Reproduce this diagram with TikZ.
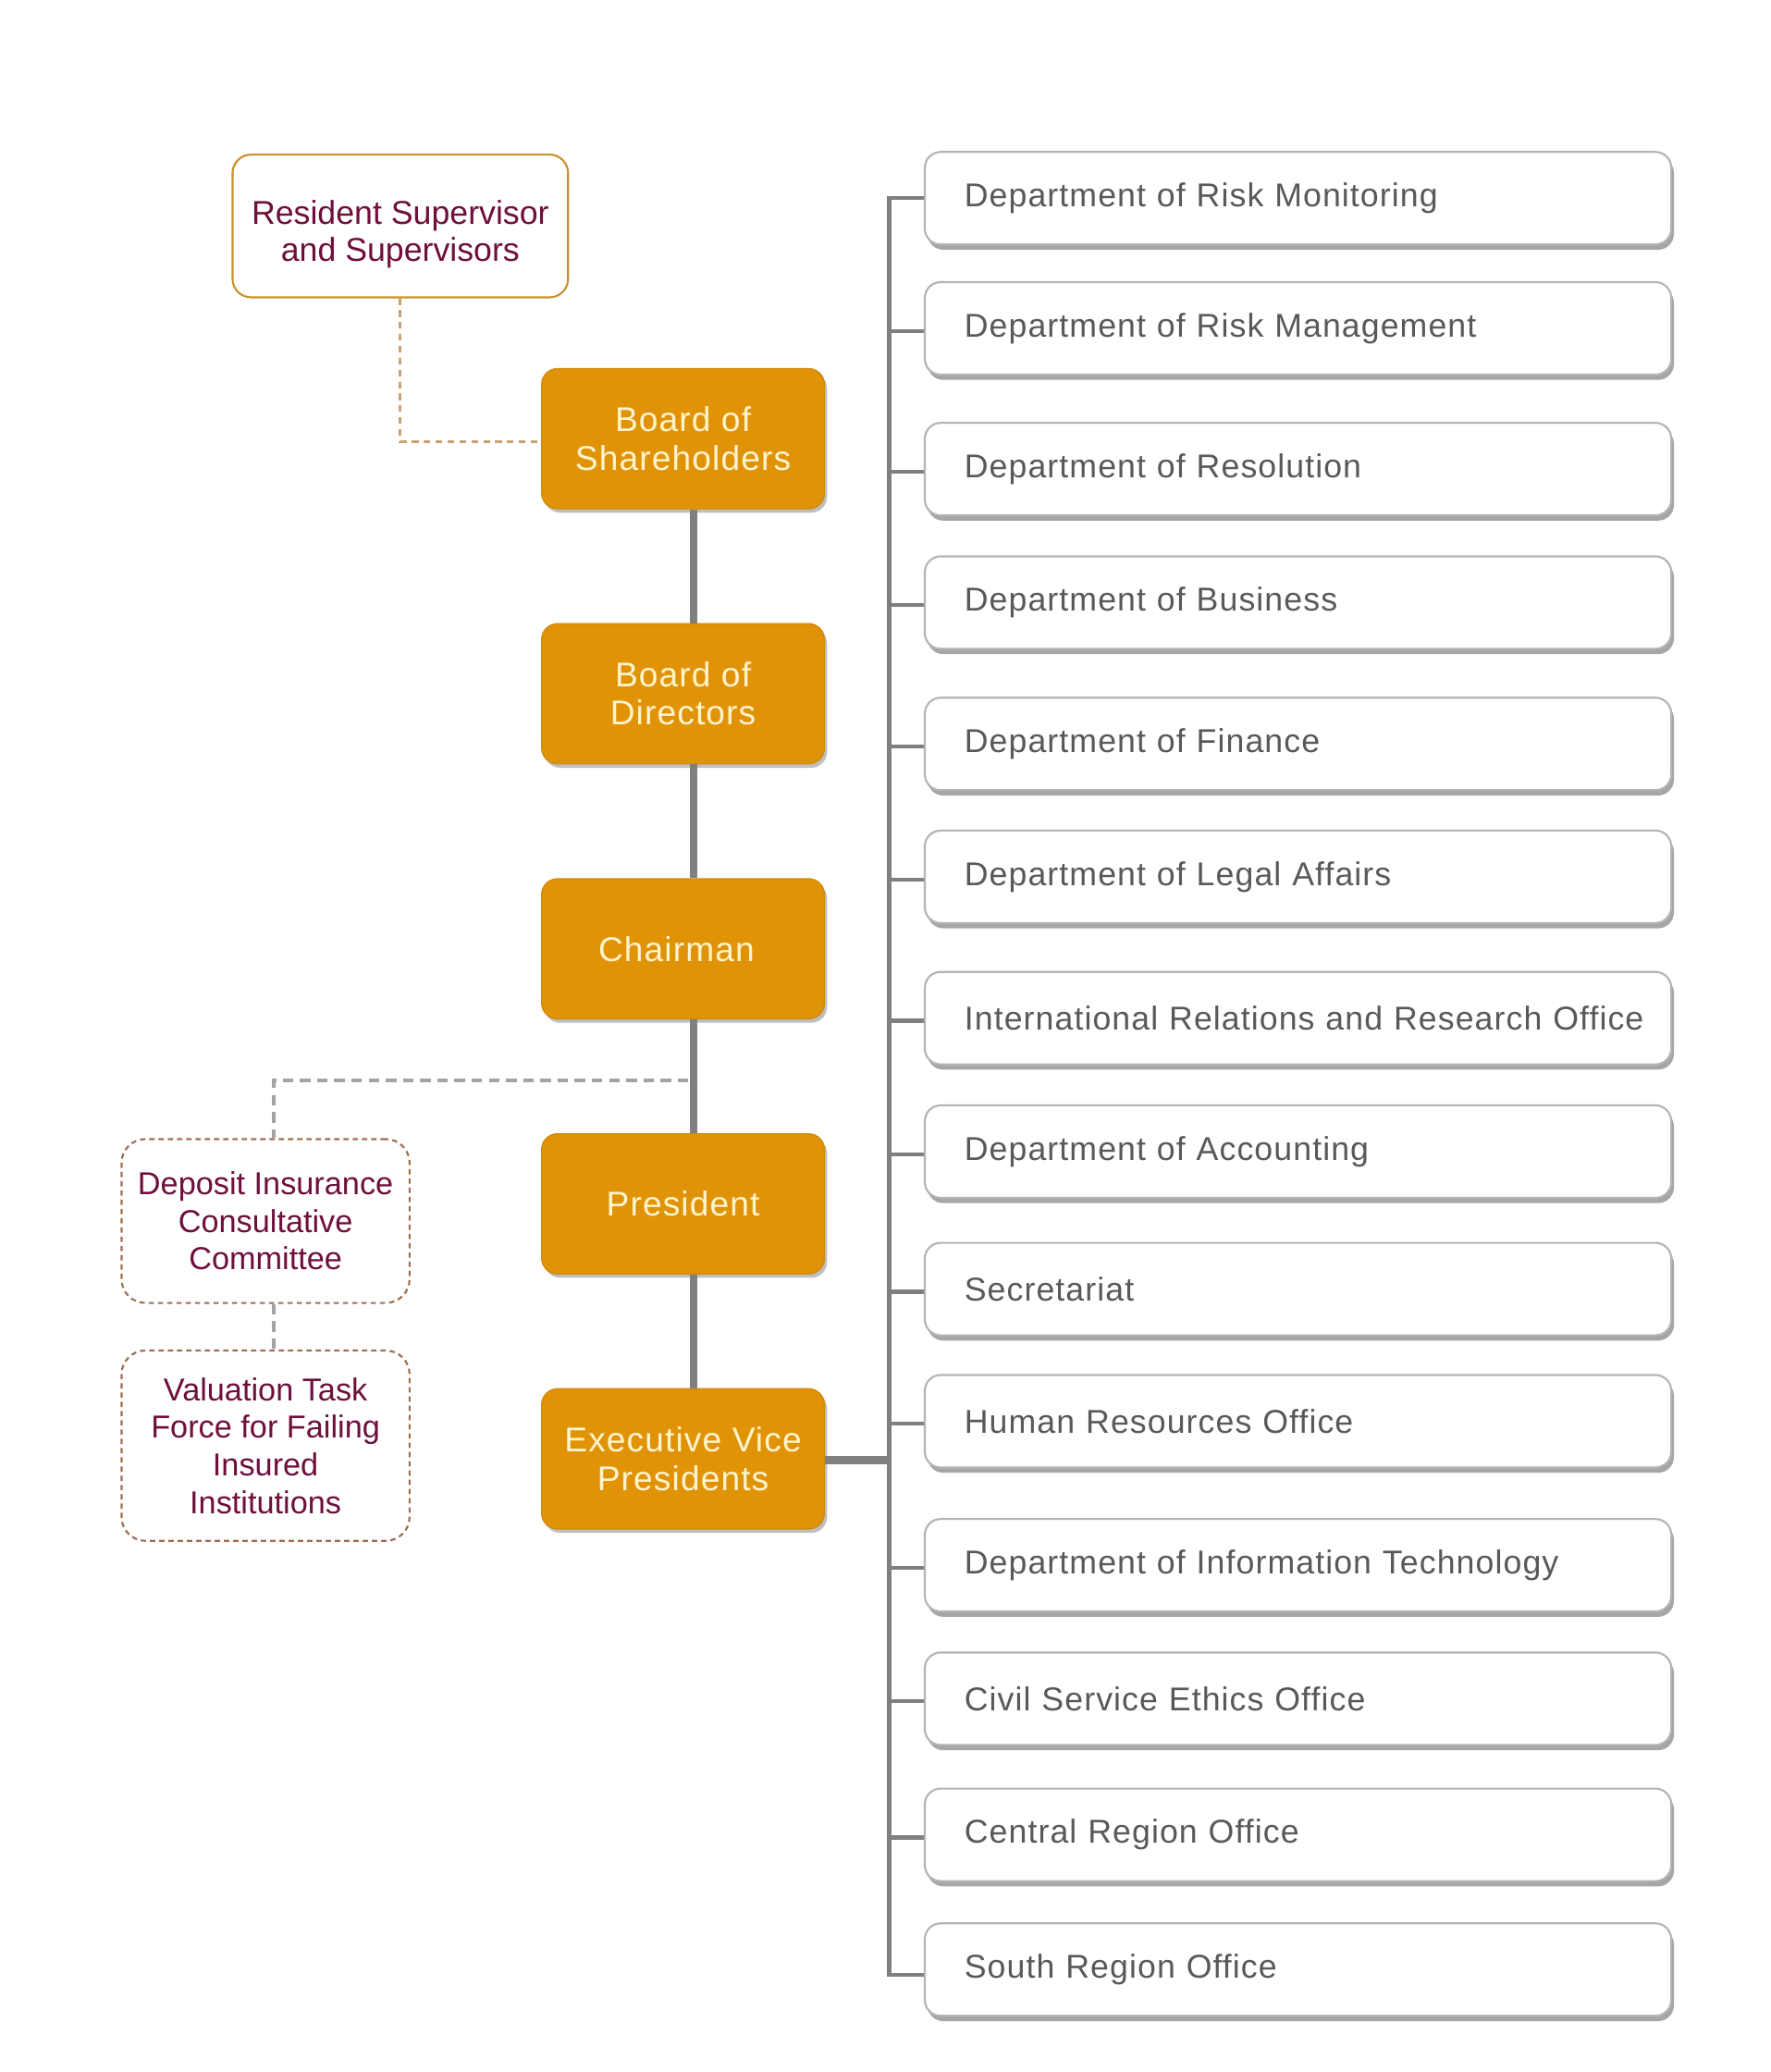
\documentclass[tikz,border=0pt]{standalone}
\usepackage{fontspec}
\setmainfont{Liberation Sans}
\newfontfamily\spacedfont[LetterSpace=3]{Liberation Sans}
\usetikzlibrary{shadows,calc}
\definecolor{orF}{HTML}{E19307}
\definecolor{orD}{HTML}{D38A0B}
\definecolor{cream}{HTML}{FFF4CC}
\definecolor{maroon}{HTML}{6E0F3C}
\definecolor{goldB}{HTML}{C8922E}
\definecolor{brownB}{HTML}{9E6E52}
\definecolor{tan}{HTML}{C9A274}
\definecolor{trunk}{HTML}{7F7F7F}
\definecolor{dgray}{HTML}{A3A3A3}
\definecolor{boxB}{HTML}{B4B4B4}
\definecolor{txtG}{HTML}{595959}
\tikzset{
  orbox/.style={rectangle, rounded corners=12pt, fill=orF, draw=orD, line width=1pt,
    minimum width=214pt, minimum height=106pt, text=cream, align=center,
    font=\spacedfont\fontsize{26}{29}\selectfont,
    drop shadow={shadow xshift=2pt, shadow yshift=-3pt, fill=black, opacity=0.25}},
  depbox/.style={rectangle, rounded corners=12pt, fill=white, draw=boxB, line width=1.5pt,
    minimum width=565pt, minimum height=70pt, text width=565pt, inner xsep=0pt,
    align=left, text=txtG, font=\spacedfont\fontsize{25}{29}\selectfont,
    drop shadow={shadow xshift=2pt, shadow yshift=-4pt, fill=black, opacity=0.35}},
  resbox/.style={rectangle, rounded corners=14pt, fill=white, draw=goldB, line width=1.5pt,
    minimum width=254pt, minimum height=108pt, text=maroon, align=center,
    font=\fontsize{25}{28}\selectfont},
  comboxx/.style={rectangle, rounded corners=18pt, fill=white, draw=brownB, line width=1.5pt,
    dash pattern=on 4pt off 3pt, minimum width=218pt, text=maroon, align=center,
    font=\fontsize{24}{28.5}\selectfont},
  trunkline/.style={draw=trunk, line width=6pt},
  branch/.style={draw=trunk, line width=3pt},
  tandash/.style={draw=tan, line width=2pt, dash pattern=on 5pt off 4pt},
  graydash/.style={draw=dgray, line width=2.5pt, dash pattern=on 8pt off 5pt},
}
\newcommand{\dtext}[1]{\hspace*{30pt}#1}
\begin{document}
\begin{tikzpicture}[x=1pt,y=-1pt]
\useasboundingbox (0,0) rectangle (1340,1568);
\fill[white] (0,0) rectangle (1340,1568);

% central chain
\node[orbox] (bs) at (517,332) {Board of\\Shareholders};
\node[orbox] (bd) at (517,525) {Board of\\Directors};
\node[orbox] (ch) at (517,718) {\hspace*{-10pt}Chairman};
\node[orbox] (pr) at (517,911) {President};
\node[orbox] (evp) at (517,1104) {Executive Vice\\Presidents};

\draw[trunkline] ([xshift=8pt]bs.south) -- ([xshift=8pt]bd.north);
\draw[trunkline] ([xshift=8pt]bd.south) -- ([xshift=8pt]ch.north);
\draw[trunkline] ([xshift=8pt]ch.south) -- ([xshift=8pt]pr.north);
\draw[trunkline] ([xshift=8pt]pr.south) -- ([xshift=8pt]evp.north);

% resident supervisor
\node[resbox] (res) at (303,171) {\rule{0pt}{30pt}Resident Supervisor\\and Supervisors};
\draw[tandash] (res.south) |- ([yshift=-2pt]bs.west);

% committees
\node[comboxx, minimum height=124pt] (dic) at (201,924) {Deposit Insurance\\Consultative\\Committee};
\node[comboxx, minimum height=144pt] (val) at (201,1094) {Valuation Task\\Force for Failing\\Insured\\Institutions};
\coordinate (j) at ($(ch.south)+(4,46)$);
\draw[graydash] (j) -| ([xshift=6pt]dic.north);
\draw[graydash] ([xshift=6pt]dic.south) -- ([xshift=6pt]val.north);

% departments
\node[depbox] (d1) at (982.5,150) {\dtext{Department of Risk Monitoring}};
\node[depbox] (d2) at (982.5,248.5) {\dtext{Department of Risk Management}};
\node[depbox] (d3) at (982.5,355) {\dtext{Department of Resolution}};
\node[depbox] (d4) at (982.5,456) {\dtext{Department of Business}};
\node[depbox] (d5) at (982.5,563) {\dtext{Department of Finance}};
\node[depbox] (d6) at (982.5,663.5) {\dtext{Department of Legal Affairs}};
\node[depbox] (d7) at (982.5,770.5) {\dtext{International Relations and Research Office}};
\node[depbox] (d8) at (982.5,871.5) {\dtext{Department of Accounting}};
\node[depbox] (d9) at (982.5,975.5) {\dtext{Secretariat}};
\node[depbox] (d10) at (982.5,1075.5) {\dtext{Human Resources Office}};
\node[depbox] (d11) at (982.5,1184.5) {\dtext{Department of Information Technology}};
\node[depbox] (d12) at (982.5,1285.5) {\dtext{Civil Service Ethics Office}};
\node[depbox] (d13) at (982.5,1388.5) {\dtext{Central Region Office}};
\node[depbox] (d14) at (982.5,1490.5) {\dtext{South Region Office}};

\coordinate (rt) at (673,150);
\draw[branch] (d1.west) -- (d1.west -| rt) -- ([yshift=-4pt]d14.west -| rt) -- ([yshift=-4pt]d14.west);
\foreach \i in {2,...,13} {
  \draw[branch] ([yshift=-2pt]d\i.west) -- ([yshift=-2pt]d\i.west -| rt);
}
\draw[trunkline] ([yshift=-1pt]evp.east) -- ([yshift=-1pt]evp.east -| rt);
\end{tikzpicture}
\end{document}
